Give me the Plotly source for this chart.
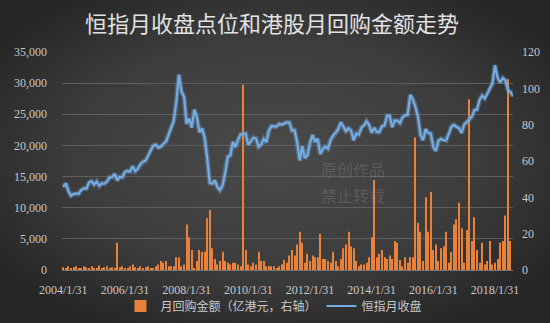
import base64
import calendar
import plotly.graph_objects as go

# ---------------- data ----------------
start_year, start_month, n_months = 2004, 1, 176
categories = []
y, m = start_year, start_month
for _ in range(n_months):
    categories.append(f"{y}/{m}/{calendar.monthrange(y, m)[1]}")
    m += 1
    if m > 12:
        m, y = 1, y + 1

tick_labels = ["2004/1/31", "2006/1/31", "2008/1/31", "2010/1/31",
               "2012/1/31", "2014/1/31", "2016/1/31", "2018/1/31"]

# Hang Seng monthly close (left axis)
hsi = [
    13289, 13907, 12682, 11942, 12198, 12286, 12239, 12851, 13120, 13055, 14060, 14230,
    13722, 14196, 13517, 13909, 13868, 14201, 14880, 14903, 15429, 14386, 14937, 14876,
    15753, 15918, 15805, 16661, 15857, 16267, 16971, 17392, 17543, 18324, 18960, 19965,
    20106, 19651, 19801, 20319, 20635, 21773, 23185, 23984, 27143, 31352, 28643, 27813,
    23456, 24332, 22849, 25755, 24533, 22102, 22731, 21262, 18016, 13969, 13888, 14387,
    13278, 12812, 13576, 15521, 18171, 18379, 20573, 19724, 20955, 21753, 21822, 21873,
    20122, 20609, 21239, 21108, 19765, 20129, 21030, 20536, 22359, 23096, 23008, 23035,
    23447, 23338, 23528, 23720, 23684, 22398, 22440, 20535, 17592, 19864, 17989, 18434,
    20390, 21680, 20556, 21094, 18630, 19441, 19796, 19482, 20840, 21642, 22030, 22657,
    23730, 23020, 22300, 22737, 22392, 20803, 21884, 21731, 22860, 23206, 23881, 23306,
    22035, 22837, 22151, 22134, 23082, 23191, 24757, 24742, 22933, 23998, 23987, 23605,
    24507, 24823, 24901, 28133, 27424, 26250, 24636, 21671, 20846, 22640, 21996, 21914,
    19683, 19112, 20777, 21067, 20815, 20794, 21891, 22977, 23297, 22935, 22790, 22001,
    23361, 23741, 24112, 24615, 25661, 25765, 27324, 27970, 27554, 28246, 29177, 29919,
    32887, 30845, 30093, 30808, 30469, 28955, 28583, 27889,
]

# monthly buyback amount, 亿港元 (right axis)
buyback = [
    1.5, 1, 2, 1, 1.5, 2, 1, 1, 2, 1.5, 1, 2, 1, 1, 2.5, 1, 1.5, 2, 1, 1.5, 1, 15,
    1.5, 2, 1, 1, 2, 3, 1.5, 1, 2, 1, 1.5, 2, 1,
    1, 2, 3, 5, 4, 5, 2, 2, 2, 7, 7, 2, 3, 25, 18, 11, 1, 5, 11, 10, 10, 28.5, 33, 12,
    6, 3, 5, 10, 5, 4, 3, 4, 4, 3, 2, 102, 11, 3, 2, 4, 3, 10, 5, 5, 2, 2, 2, 2,
    1, 2, 3, 5.5, 4, 8, 11, 8, 14, 21, 15, 4, 9, 5, 8, 7, 7, 20, 6, 6, 5, 4, 10, 5, 2,
    6, 12, 14, 21, 13, 12, 5, 2, 3, 3, 4, 7, 18, 49.5, 7, 9, 11, 7, 6, 8, 6, 16,
    15, 5.5, 2, 7, 4, 7, 7, 73, 26, 21, 5, 40, 21, 43, 11, 14, 5, 12, 13, 21, 4, 10,
    25, 28, 37, 23, 4, 22, 94, 16, 29, 11, 4, 15, 3, 5, 16, 3, 4, 6, 15, 16, 30, 105, 16,
]

bar_name = "月回购金额（亿港元，右轴）"
line_name = "恒指月收盘"
title_text = "恒指月收盘点位和港股月回购金额走势"

# ---------------- figure ----------------
TEXT = "#c8c8c8"
SERIF = "Liberation Serif"
CJK = "Noto Sans CJK SC"

W, H = 550, 323
ML, MR, MT, MB = 62, 37, 52, 53
PW, PH = W - ML - MR, H - MT - MB

svg = (f'<svg xmlns="http://www.w3.org/2000/svg" width="{W}" height="{H}">'
       '<defs><radialGradient id="g" cx="50%" cy="48%" r="62%">'
       '<stop offset="0%" stop-color="#4a4a4a"/>'
       '<stop offset="60%" stop-color="#3c3c3c"/>'
       '<stop offset="100%" stop-color="#252525"/>'
       '</radialGradient></defs>'
       f'<rect width="{W}" height="{H}" fill="url(#g)"/></svg>')
bg_uri = "data:image/svg+xml;base64," + base64.b64encode(svg.encode()).decode()

fig = go.Figure()
fig.add_trace(go.Bar(x=categories, y=buyback, name=bar_name, yaxis="y",
                     marker=dict(color="#E8823A", line=dict(width=0))))
fig.add_trace(go.Scatter(x=categories, y=hsi, mode="lines", yaxis="y2",
                         line=dict(color="rgba(120,175,230,0.35)", width=5),
                         showlegend=False, hoverinfo="skip"))
fig.add_trace(go.Scatter(x=categories, y=hsi, name=line_name, mode="lines", yaxis="y2",
                         line=dict(color="#74ACE4", width=2.2)))

fig.update_layout(
    width=W, height=H,
    margin=dict(l=ML, r=MR, t=MT, b=MB, autoexpand=False),
    paper_bgcolor="#363636",
    plot_bgcolor="rgba(0,0,0,0)",
    bargap=0.6,
    images=[dict(source=bg_uri, xref="paper", yref="paper",
                 x=-ML / PW, y=1 + MT / PH, sizex=W / PW, sizey=H / PH,
                 xanchor="left", yanchor="top", sizing="stretch", layer="below")],
    title=dict(text=title_text, x=272 / W, xanchor="center", y=1 - 24 / H, yanchor="middle",
               yref="container", font=dict(family=CJK, size=22, color="#e2e2e2")),
    xaxis=dict(type="category", tickmode="array", tickvals=tick_labels, ticktext=tick_labels,
               showgrid=False, showline=True, linecolor="#777777", linewidth=1,
               ticks="", ticklabelstandoff=9, automargin=False,
               tickfont=dict(family=SERIF, size=12, color=TEXT)),
    yaxis=dict(side="right", range=[0, 120], dtick=20, showgrid=False, zeroline=False,
               ticks="", ticklabelstandoff=8, automargin=False,
               tickfont=dict(family=SERIF, size=12, color=TEXT)),
    yaxis2=dict(side="left", overlaying="y", range=[0, 35000], dtick=5000, tickformat=",",
                showgrid=True, gridcolor="#5e5e5e", gridwidth=1, zeroline=False,
                ticks="", ticklabelstandoff=14, automargin=False,
                tickfont=dict(family=SERIF, size=12, color=TEXT)),
    legend=dict(orientation="h", x=0.47, xanchor="center", y=1 - 306 / H, yanchor="middle",
                yref="container",
                font=dict(family=CJK, size=12, color=TEXT), bgcolor="rgba(0,0,0,0)",
                itemwidth=30),
    showlegend=True,
)

for txt, yy in [("原创作品", 0.462), ("禁止转载", 0.345)]:
    fig.add_annotation(text=txt, xref="paper", yref="paper", x=0.645, y=yy,
                       xanchor="center", yanchor="middle", showarrow=False,
                       font=dict(family=CJK, size=16, color="rgba(150,150,150,0.3)"))

fig.write_html("out.html")
